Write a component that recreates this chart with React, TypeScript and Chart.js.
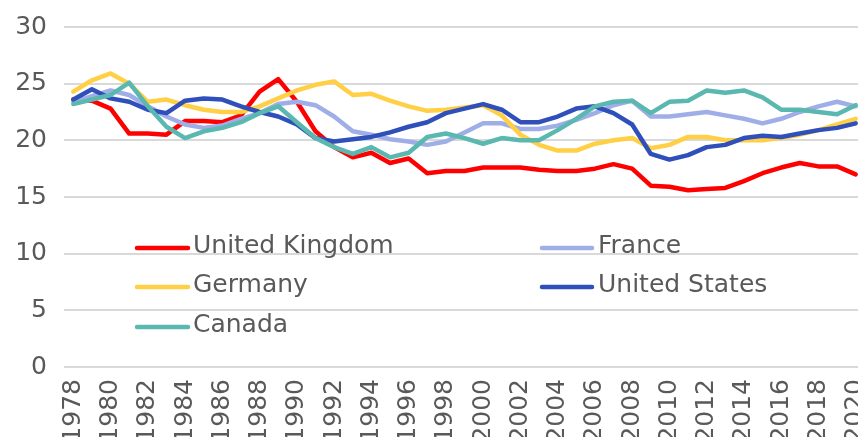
import React, { useEffect, useRef } from "react";
import { Chart, registerables } from "chart.js";

Chart.register(...registerables);

const years = [
  "1978", "1979", "1980", "1981", "1982", "1983", "1984", "1985", "1986", "1987",
  "1988", "1989", "1990", "1991", "1992", "1993", "1994", "1995", "1996", "1997",
  "1998", "1999", "2000", "2001", "2002", "2003", "2004", "2005", "2006", "2007",
  "2008", "2009", "2010", "2011", "2012", "2013", "2014", "2015", "2016", "2017",
  "2018", "2019", "2020",
];

const unitedKingdom = [
  23.6, 23.5, 22.8, 20.6, 20.6, 20.5, 21.7, 21.7, 21.6, 22.2,
  24.3, 25.4, 23.4, 20.8, 19.4, 18.5, 18.9, 18.0, 18.4, 17.1,
  17.3, 17.3, 17.6, 17.6, 17.6, 17.4, 17.3, 17.3, 17.5, 17.9,
  17.5, 16.0, 15.9, 15.6, 15.7, 15.8, 16.4, 17.1, 17.6, 18.0,
  17.7, 17.7, 17.0,
];

const france = [
  23.4, 23.9, 24.4, 24.0, 23.0, 22.1, 21.4, 21.1, 21.3, 21.9,
  22.4, 23.2, 23.4, 23.1, 22.1, 20.8, 20.5, 20.1, 19.9, 19.6,
  19.9, 20.7, 21.5, 21.5, 21.0, 21.0, 21.3, 21.8, 22.4, 23.1,
  23.5, 22.1, 22.1, 22.3, 22.5, 22.2, 21.9, 21.5, 21.9, 22.5,
  23.0, 23.4, 23.0,
];

const germany = [
  24.3, 25.3, 25.9, 25.0, 23.4, 23.6, 23.1, 22.7, 22.5, 22.5,
  23.0, 23.7, 24.4, 24.9, 25.2, 24.0, 24.1, 23.5, 23.0, 22.6,
  22.7, 22.9, 23.1, 22.2, 20.5, 19.6, 19.1, 19.1, 19.7, 20.0,
  20.2, 19.3, 19.6, 20.3, 20.3, 20.0, 20.0, 20.0, 20.2, 20.5,
  20.9, 21.4, 21.9,
];

const unitedStates = [
  23.6, 24.5, 23.7, 23.4, 22.7, 22.4, 23.5, 23.7, 23.6, 23.0,
  22.5, 22.1, 21.4, 20.2, 19.9, 20.1, 20.3, 20.7, 21.2, 21.6,
  22.4, 22.8, 23.2, 22.7, 21.6, 21.6, 22.1, 22.8, 23.0, 22.4,
  21.4, 18.8, 18.3, 18.7, 19.4, 19.6, 20.2, 20.4, 20.3, 20.6,
  20.9, 21.1, 21.5,
];

const canada = [
  23.2, 23.6, 24.0, 25.1, 23.0, 21.2, 20.2, 20.8, 21.1, 21.6,
  22.4, 23.0, 21.6, 20.2, 19.4, 18.8, 19.4, 18.5, 18.9, 20.3,
  20.6, 20.2, 19.7, 20.2, 20.0, 20.0, 20.9, 21.9, 23.0, 23.4,
  23.5, 22.4, 23.4, 23.5, 24.4, 24.2, 24.4, 23.8, 22.7, 22.7,
  22.5, 22.3, 23.1,
];

const seriesNames = ["United Kingdom", "France", "Germany", "United States", "Canada"];
const seriesColors = ["#ff0000", "#a0aee8", "#ffd046", "#2f4fbb", "#5ab8b0"];

const FONT = "'DejaVu Sans', sans-serif";
const TEXT = "#595959";

const legendPlugin = {
  id: "insideLegend",
  afterDraw(chart: any) {
    const ctx = chart.ctx;
    const items = chart.data.datasets;
    const cols = [
      { x0: 137, x1: 188, tx: 193 },
      { x0: 542, x1: 592, tx: 598 },
    ];
    const rows = [248, 287, 327];
    ctx.save();
    items.forEach((ds: any, i: number) => {
      const c = cols[i % 2];
      const y = rows[Math.floor(i / 2)];
      ctx.strokeStyle = ds.borderColor;
      ctx.lineWidth = 4.5;
      ctx.lineCap = "round";
      ctx.beginPath();
      ctx.moveTo(c.x0, y);
      ctx.lineTo(c.x1, y);
      ctx.stroke();
      ctx.fillStyle = TEXT;
      ctx.font = `25px ${FONT}`;
      ctx.textBaseline = "alphabetic";
      ctx.textAlign = "left";
      ctx.fillText(ds.label, c.tx, y + 5);
    });
    ctx.restore();
  },
};

export default function App() {
  const ref = useRef<HTMLCanvasElement>(null);

  useEffect(() => {
    if (!ref.current) return;
    const values = [unitedKingdom, france, germany, unitedStates, canada];
    const chart = new Chart(ref.current, {
      type: "line",
      data: {
        labels: years,
        datasets: values.map((v, i) => ({
          label: seriesNames[i],
          data: v,
          borderColor: seriesColors[i],
          backgroundColor: seriesColors[i],
          borderWidth: 4.5,
          pointRadius: 0,
          tension: 0,
          fill: false,
          borderJoinStyle: "round" as const,
          borderCapStyle: "round" as const,
          order: 5 - i,
        })),
      },
      options: {
        responsive: false,
        animation: false,
        devicePixelRatio: 1,
        layout: { padding: { top: 27, right: 15, left: 0, bottom: 0 } },
        plugins: {
          legend: { display: false },
          tooltip: { enabled: false },
        },
        scales: {
          x: {
            offset: true,
            grid: { display: false, drawTicks: false },
            border: { display: false },
            ticks: {
              autoSkip: false,
              minRotation: 90,
              maxRotation: 90,
              padding: 12,
              color: TEXT,
              font: { family: FONT, size: 25 },
              callback: (_v: any, idx: number) => (idx % 2 === 0 ? years[idx] : ""),
            },
            afterFit: (scale: any) => {
              scale.height = 103;
              scale.paddingLeft = 0;
              scale.paddingRight = 0;
            },
          },
          y: {
            min: 0,
            max: 30,
            grid: { color: "#d9d9d9", lineWidth: 2, drawTicks: false },
            border: { display: false },
            ticks: {
              stepSize: 5,
              padding: 17,
              color: TEXT,
              font: { family: FONT, size: 25 },
            },
            afterFit: (scale: any) => {
              scale.width = 64;
              scale.paddingTop = 0;
              scale.paddingBottom = 0;
            },
          },
        },
      },
      plugins: [legendPlugin],
    });
    return () => chart.destroy();
  }, []);

  return (
    <div
      style={{
        position: "fixed",
        left: 0,
        top: 0,
        width: 858,
        height: 437,
        overflow: "hidden",
        background: "#ffffff",
      }}
    >
      <canvas ref={ref} width={880} height={470} style={{ display: "block" }} />
    </div>
  );
}
